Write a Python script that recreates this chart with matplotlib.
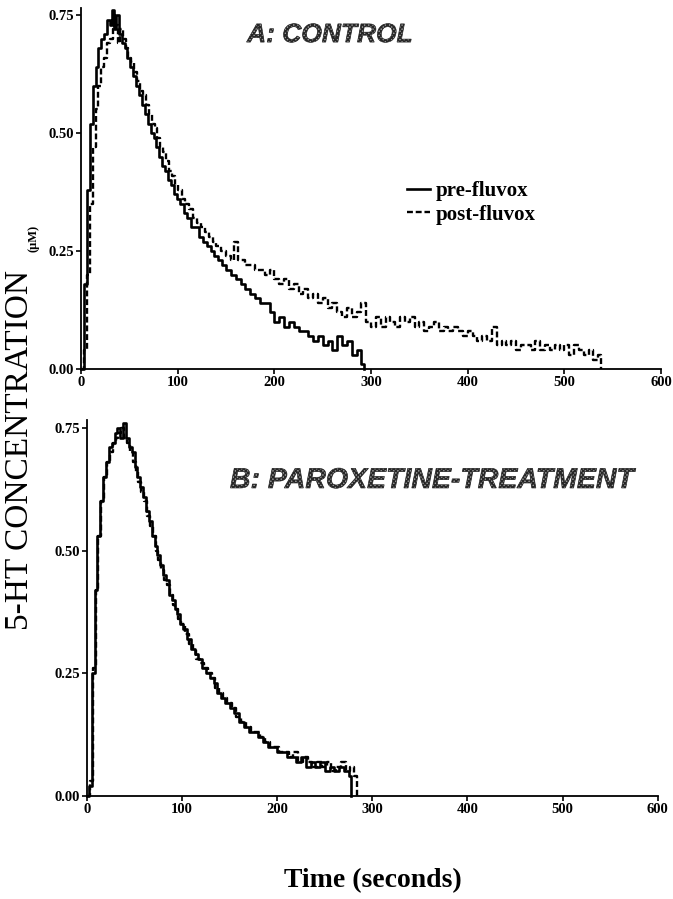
import matplotlib
matplotlib.use("Agg")
import matplotlib.pyplot as plt
import matplotlib.patheffects as pe

# --- data (time in s, 5-HT in uM) ---
# A: control, pre-fluvox
a_pre_t = [0, 3, 6, 9, 12, 15, 18, 21, 24, 27, 30, 32, 34, 36, 39, 42, 45, 48, 51, 54,
           57, 60, 63, 66, 69, 72, 75, 78, 81, 84, 87, 90, 93, 96, 99, 102, 106, 110, 114, 118,
           122, 126, 130, 134, 138, 142, 146, 150, 155, 160, 165, 170, 175, 180, 185, 190, 195, 200, 205, 210,
           215, 220, 225, 230, 235, 240, 245, 250, 255, 260, 265, 270, 275, 280, 285, 290, 293]
a_pre_v = [0.00, 0.18, 0.38, 0.52, 0.60, 0.64, 0.68, 0.70, 0.71, 0.74, 0.73, 0.76, 0.72, 0.75, 0.71, 0.69, 0.68, 0.66, 0.64, 0.62,
           0.60, 0.58, 0.56, 0.54, 0.52, 0.50, 0.49, 0.47, 0.45, 0.43, 0.42, 0.40, 0.39, 0.37, 0.36, 0.35, 0.33, 0.32, 0.30, 0.30,
           0.28, 0.27, 0.26, 0.25, 0.24, 0.23, 0.22, 0.21, 0.20, 0.19, 0.18, 0.17, 0.16, 0.15, 0.14, 0.14, 0.12, 0.10, 0.11, 0.09,
           0.10, 0.09, 0.08, 0.08, 0.07, 0.06, 0.07, 0.05, 0.06, 0.04, 0.07, 0.05, 0.06, 0.03, 0.04, 0.01, 0.00]

# A: control, post-fluvox
a_post_t = [0, 3, 6, 9, 12, 15, 18, 21, 24, 27, 30, 33, 36, 38, 40, 43, 46, 49, 52, 55,
            58, 61, 64, 67, 70, 73, 76, 79, 82, 85, 88, 91, 94, 97, 100, 104, 108, 112, 116, 120,
            124, 128, 132, 136, 140, 145, 150, 155, 158, 162, 166, 170, 175, 180, 185, 190, 195, 200, 205, 210,
            215, 220, 225, 230, 235, 240, 245, 250, 255, 260, 265, 270, 275, 280, 285, 290, 295, 300, 305, 310,
            315, 320, 325, 330, 335, 340, 345, 350, 355, 360, 365, 370, 375, 380, 385, 390, 395, 400, 405, 410,
            415, 420, 425, 430, 435, 440, 445, 450, 455, 460, 465, 470, 475, 480, 485, 490, 495, 500, 505, 510,
            515, 520, 525, 530, 535, 538]
a_post_v = [0.00, 0.04, 0.20, 0.35, 0.47, 0.55, 0.60, 0.64, 0.66, 0.69, 0.70, 0.72, 0.73, 0.69, 0.72, 0.70, 0.68, 0.66, 0.65, 0.63,
            0.61, 0.59, 0.58, 0.56, 0.54, 0.52, 0.51, 0.49, 0.47, 0.46, 0.44, 0.42, 0.41, 0.39, 0.38, 0.36, 0.35, 0.34, 0.32, 0.31,
            0.30, 0.29, 0.28, 0.27, 0.26, 0.25, 0.24, 0.23, 0.27, 0.23, 0.23, 0.22, 0.22, 0.21, 0.21, 0.20, 0.21, 0.19, 0.18, 0.19,
            0.17, 0.18, 0.16, 0.17, 0.15, 0.16, 0.14, 0.15, 0.13, 0.14, 0.12, 0.11, 0.13, 0.11, 0.12, 0.14, 0.10, 0.09, 0.11, 0.09,
            0.11, 0.10, 0.09, 0.11, 0.10, 0.11, 0.09, 0.10, 0.08, 0.09, 0.10, 0.08, 0.09, 0.08, 0.09, 0.08, 0.07, 0.08, 0.07, 0.06,
            0.07, 0.06, 0.09, 0.05, 0.06, 0.05, 0.06, 0.04, 0.05, 0.05, 0.04, 0.06, 0.04, 0.05, 0.04, 0.05, 0.04, 0.05, 0.03, 0.05,
            0.04, 0.03, 0.04, 0.02, 0.03, 0.00]

# B: paroxetine-treatment, pre-fluvox
b_pre_t = [0, 2, 5, 8, 11, 14, 17, 20, 23, 26, 29, 32, 35, 38, 41, 44, 47, 50, 53, 56,
           59, 62, 65, 68, 71, 74, 77, 80, 83, 86, 89, 92, 95, 98, 101, 105, 109, 113, 117, 121,
           125, 129, 133, 137, 141, 145, 150, 155, 160, 165, 170, 175, 180, 185, 190, 195, 200, 205, 210, 215,
           220, 225, 230, 235, 240, 245, 250, 255, 260, 265, 270, 275, 278]
b_pre_v = [0.00, 0.02, 0.25, 0.42, 0.53, 0.60, 0.65, 0.68, 0.71, 0.72, 0.74, 0.75, 0.73, 0.76, 0.73, 0.71, 0.70, 0.67, 0.65, 0.63,
           0.61, 0.58, 0.56, 0.53, 0.51, 0.49, 0.47, 0.45, 0.44, 0.41, 0.40, 0.38, 0.37, 0.35, 0.34, 0.32, 0.30, 0.29, 0.28, 0.26,
           0.25, 0.24, 0.23, 0.21, 0.20, 0.19, 0.18, 0.17, 0.15, 0.14, 0.13, 0.13, 0.12, 0.11, 0.10, 0.10, 0.09, 0.09, 0.08, 0.08,
           0.07, 0.08, 0.06, 0.07, 0.06, 0.07, 0.05, 0.06, 0.05, 0.06, 0.05, 0.04, 0.00]

# B: paroxetine-treatment, post-fluvox
b_post_t = [0, 3, 6, 9, 12, 15, 18, 21, 24, 27, 30, 33, 36, 39, 42, 45, 48, 51, 54, 57,
            60, 63, 66, 69, 72, 75, 78, 81, 84, 87, 90, 93, 96, 99, 103, 107, 111, 115, 119, 123,
            127, 131, 135, 139, 143, 147, 152, 157, 162, 167, 172, 177, 182, 187, 192, 197, 202, 207, 212, 217,
            222, 227, 232, 237, 242, 247, 252, 257, 262, 267, 272, 277, 281, 284]
b_post_v = [0.00, 0.03, 0.26, 0.42, 0.53, 0.60, 0.65, 0.68, 0.70, 0.72, 0.73, 0.74, 0.75, 0.73, 0.72, 0.70, 0.68, 0.66, 0.64, 0.62,
            0.60, 0.57, 0.55, 0.53, 0.50, 0.48, 0.46, 0.44, 0.43, 0.41, 0.39, 0.38, 0.36, 0.35, 0.33, 0.31, 0.30, 0.28, 0.27, 0.26,
            0.25, 0.24, 0.22, 0.21, 0.20, 0.19, 0.18, 0.16, 0.15, 0.14, 0.13, 0.13, 0.12, 0.11, 0.10, 0.10, 0.09, 0.09, 0.08, 0.09,
            0.07, 0.08, 0.07, 0.06, 0.07, 0.06, 0.07, 0.05, 0.06, 0.07, 0.05, 0.06, 0.04, 0.00]

x_ticks = [0, 100, 200, 300, 400, 500, 600]
y_ticks = [0.00, 0.25, 0.50, 0.75]

serif = "Liberation Serif"
sans = "Liberation Sans"
dash = (0, (2.5, 1.2))

fig = plt.figure(figsize=(6.73, 8.99), dpi=100)
ax_a = fig.add_axes([0.1204, 0.5895, 0.862, 0.4016])
ax_b = fig.add_axes([0.1293, 0.1146, 0.848, 0.4177])


def style_axis(ax):
    ax.set_xlim(0, 600)
    ax.set_ylim(0, 0.765)
    ax.set_xticks(x_ticks)
    ax.set_yticks(y_ticks)
    ax.set_yticklabels(["%.2f" % v for v in y_ticks])
    for s in ("top", "right"):
        ax.spines[s].set_visible(False)
    for s in ("left", "bottom"):
        ax.spines[s].set_linewidth(1.3)
    ax.tick_params(direction="out", length=3.5, width=1.2, pad=1.5)
    for lab in ax.get_xticklabels() + ax.get_yticklabels():
        lab.set_fontfamily(serif)
        lab.set_fontweight("bold")
        lab.set_fontsize(10.5)


ax_a.plot(a_pre_t, a_pre_v, color="black", lw=1.9, drawstyle="steps-post",
          label="pre-fluvox", clip_on=False)
ax_a.plot(a_post_t, a_post_v, color="black", lw=1.7, ls=dash, drawstyle="steps-post",
          label="post-fluvox", clip_on=False)
ax_b.plot(b_pre_t, b_pre_v, color="black", lw=1.9, drawstyle="steps-post", clip_on=False)
ax_b.plot(b_post_t, b_post_v, color="black", lw=1.7, ls=dash, drawstyle="steps-post", clip_on=False)

style_axis(ax_a)
style_axis(ax_b)

ax_a.legend(loc="center left", bbox_to_anchor=(0.562, 0.46), frameon=False,
            prop={"family": serif, "weight": "bold", "size": 15},
            borderpad=0, borderaxespad=0, handlelength=1.1,
            handletextpad=0.25, labelspacing=0.15)

hatch_fx = [pe.PathPatchEffect(hatch="xxxxxxxx", facecolor="#9a9a9a", edgecolor="#262626", linewidth=0.5)]
fig.text(0.490, 0.961, "A: CONTROL", ha="center", va="center", family=sans,
         weight="bold", style="italic", size=19, path_effects=hatch_fx)
fig.text(0.642, 0.465, "B: PAROXETINE-TREATMENT", ha="center", va="center", family=sans,
         weight="bold", style="italic", size=20.5, path_effects=hatch_fx)

fig.text(0.030, 0.499, "5-HT CONCENTRATION", rotation=90, ha="center", va="center",
         family=serif, size=24)
fig.text(0.0505, 0.735, "(\u03bcM)", rotation=90, ha="center", va="center",
         family=serif, weight="bold", size=9)
fig.text(0.554, 0.021, "Time (seconds)", ha="center", va="center",
         family=serif, weight="bold", size=20)

fig.savefig("out.png", dpi=100)
